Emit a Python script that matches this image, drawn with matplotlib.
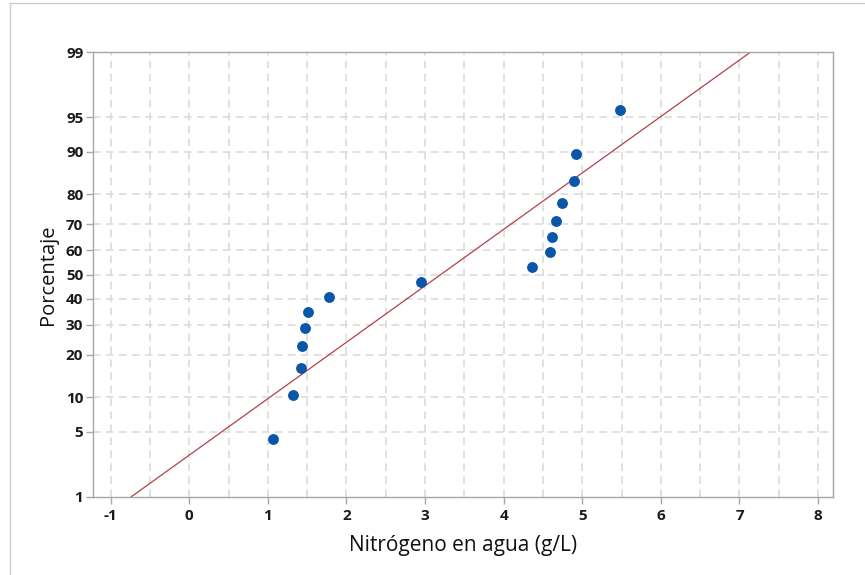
#!/usr/bin/env python3

from statistics import NormalDist

import numpy as np
import matplotlib
matplotlib.use("Agg")
import matplotlib.pyplot as plt
from matplotlib.lines import Line2D

# Nitrogen in water (g/L), sorted, with their plotting percentages
nitrogeno = [1.07, 1.32, 1.42, 1.43, 1.47, 1.51, 1.78, 2.95,
             4.36, 4.59, 4.61, 4.66, 4.74, 4.89, 4.92, 5.48]
porcentaje = [4.3, 10.4, 16.5, 22.6, 28.7, 34.8, 40.9, 47.0,
              53.0, 59.1, 65.2, 71.3, 77.4, 83.5, 89.6, 95.7]

y_ticks = [1, 5, 10, 20, 30, 40, 50, 60, 70, 80, 90, 95, 99]
x_ticks = [-1, 0, 1, 2, 3, 4, 5, 6, 7, 8]

nd = NormalDist()
_ppf = np.vectorize(lambda p: nd.inv_cdf(min(max(p, 1e-6), 100 - 1e-6) / 100.0),
                    otypes=[float])
_cdf = np.vectorize(lambda z: nd.cdf(z) * 100.0, otypes=[float])


def prob_fwd(p):
    return _ppf(np.asarray(p, dtype=float))


def prob_inv(z):
    return _cdf(np.asarray(z, dtype=float))


# Fitted normal line from sample mean / std
mu = np.mean(nitrogeno)
sd = np.std(nitrogeno, ddof=1)
fit_p = np.linspace(1, 99, 200)
fit_x = mu + sd * prob_fwd(fit_p)

plt.rcParams["font.family"] = ["Open Sans", "DejaVu Sans"]

fig = plt.figure(figsize=(8.65, 5.75), dpi=100)
ax = fig.add_axes([93 / 865, 78 / 575, 740 / 865, 445 / 575])
ax.set_yscale("function", functions=(prob_fwd, prob_inv))

grid_kw = dict(color="#d9d9d9", lw=1.1, dashes=(5, 3.5), zorder=0)
for gx in np.arange(-1, 8.01, 0.5):
    ax.axvline(gx, **grid_kw)
for gy in y_ticks[1:-1]:
    ax.axhline(gy, **grid_kw)

ax.plot(fit_x, fit_p, color="#b0424a", lw=0.9, zorder=2)
ax.plot(nitrogeno, porcentaje, "o", color="#0a56a8", ms=6.8, mec="#0a56a8", zorder=3)

ax.set_xlim(-1.225, 8.19)
ax.set_ylim(1, 99)
ax.set_xticks(x_ticks)
ax.set_xticklabels([str(t) for t in x_ticks])
ax.set_yticks(y_ticks)
ax.set_yticklabels([str(t) for t in y_ticks])
ax.yaxis.set_minor_locator(matplotlib.ticker.NullLocator())

for s in ax.spines.values():
    s.set_color("#a8a8a8")
    s.set_linewidth(1.0)
ax.tick_params(axis="both", colors="#a8a8a8", length=5, width=1.0,
               labelcolor="#1a1a1a", labelsize=11)
ax.tick_params(axis="y", pad=2)
for lbl in ax.get_xticklabels() + ax.get_yticklabels():
    lbl.set_fontweight("bold")

ax.set_xlabel("Nitrógeno en agua (g/L)", fontsize=15, color="#111111", labelpad=9)
ax.set_ylabel("Porcentaje", fontsize=14.5, color="#111111", labelpad=6)

# light outer frame
fig.add_artist(Line2D([9.5 / 865, 9.5 / 865], [0, 1 - 2.5 / 575], transform=fig.transFigure,
                      color="#cccccc", lw=1.0))
fig.add_artist(Line2D([9.5 / 865, 1], [1 - 2.5 / 575, 1 - 2.5 / 575], transform=fig.transFigure,
                      color="#cccccc", lw=1.0))

fig.savefig("out.png", dpi=100)
